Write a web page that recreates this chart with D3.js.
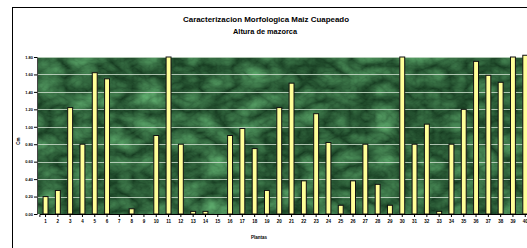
<!DOCTYPE html>
<html>
<head>
<meta charset="utf-8">
<script src="https://cdn.jsdelivr.net/npm/d3@7"></script>
<style>
  body { margin: 0; background: #fff; }
  text { font-family: "Liberation Sans", Arial, sans-serif; font-weight: bold; fill: #000; }
</style>
</head>
<body>
<div id="chart"></div>
<script>
// data (ear height per plant)
var plantas = d3.range(1, 41);
var altura = [0.20, 0.27, 1.22, 0.80, 1.62, 1.55, 0, 0.06, 0, 0.90,
  1.80, 0.80, 0.03, 0.03, 0, 0.90, 0.98, 0.75, 0.27, 1.22,
  1.50, 0.38, 1.15, 0.82, 0.10, 0.38, 0.80, 0.34, 0.10, 1.80,
  0.80, 1.03, 0.03, 0.80, 1.20, 1.75, 1.59, 1.51, 1.80, 1.82];
var yTicks = [0, 0.2, 0.4, 0.6, 0.8, 1.0, 1.2, 1.4, 1.6, 1.8];
var titulo = "Caracterizacion Morfologica Maiz Cuapeado";
var subtitulo = "Altura de mazorca";

var W = 527, H = 248;
var plot = { left: 37, top: 57, bottom: 214 };

var svg = d3.select("#chart").append("svg")
  .attr("width", W).attr("height", H);

// marble texture for the plot area
var defs = svg.append("defs");
var f = defs.append("filter").attr("id", "marble")
  .attr("color-interpolation-filters", "sRGB")
  .attr("x", 0).attr("y", 0).attr("width", 1).attr("height", 1);
f.append("feTurbulence").attr("type", "turbulence")
  .attr("baseFrequency", "0.03 0.045").attr("numOctaves", 4).attr("seed", 7)
  .attr("result", "noise");
f.append("feColorMatrix").attr("in", "noise").attr("type", "matrix")
  .attr("values", "0 0 0 0.32 0.08  0 0 0 0.5 0.22  0 0 0 0.34 0.12  0 0 0 0 1");

// chart area border (cropped at right/bottom)
svg.append("rect").attr("x", 12.5).attr("y", 7.5)
  .attr("width", 540).attr("height", 260)
  .attr("fill", "none").attr("stroke", "#000").attr("stroke-width", 1);

var x = d3.scaleBand().domain(plantas).range([39.4, 531.4]).paddingInner(0.6).paddingOuter(0.3);
var y = d3.scaleLinear().domain([0, 1.8]).range([plot.bottom, plot.top]);

svg.append("rect").attr("x", plot.left).attr("y", plot.top)
  .attr("width", W - plot.left).attr("height", plot.bottom - plot.top)
  .attr("filter", "url(#marble)");

// gridlines
svg.append("g").selectAll("line").data(yTicks.slice(1)).enter().append("line")
  .attr("x1", plot.left).attr("x2", W)
  .attr("y1", d => Math.round(y(d)) + 0.5).attr("y2", d => Math.round(y(d)) + 0.5)
  .attr("stroke", "#d0e0d0").attr("stroke-width", 1).attr("opacity", 0.8);

// bars
svg.append("g").selectAll("rect").data(altura).enter().append("rect")
  .attr("x", (d, i) => x(plantas[i]))
  .attr("y", d => y(d))
  .attr("width", x.bandwidth())
  .attr("height", d => plot.bottom - y(d))
  .attr("fill", "#ffff99").attr("stroke", "#111").attr("stroke-width", 1)
  .attr("display", d => d > 0 ? null : "none");

// axes
var yAxis = d3.axisLeft(y).tickValues(yTicks).tickFormat(d3.format(".2f")).tickSize(3);
var gy = svg.append("g").attr("transform", "translate(" + plot.left + ",0)").call(yAxis);
gy.selectAll("text").style("font-size", "4px").attr("x", -4);
gy.select(".domain").attr("stroke", "#444");

var xAxis = d3.axisBottom(x).tickSize(3);
var gx = svg.append("g").attr("transform", "translate(0," + plot.bottom + ")").call(xAxis);
gx.selectAll("text").style("font-size", "4.5px").attr("y", 6);
gx.select(".domain").attr("stroke", "#000");

// titles
svg.append("text").attr("x", 266).attr("y", 22).attr("text-anchor", "middle")
  .attr("textLength", 166).attr("lengthAdjust", "spacingAndGlyphs")
  .style("font-size", "8px").text(titulo);
svg.append("text").attr("x", 265).attr("y", 34).attr("text-anchor", "middle")
  .attr("textLength", 64).attr("lengthAdjust", "spacingAndGlyphs")
  .style("font-size", "8px").text(subtitulo);
svg.append("text").attr("x", 259).attr("y", 239).attr("text-anchor", "middle")
  .style("font-size", "4.5px").text("Plantas");
svg.append("text").attr("transform", "translate(20,141) rotate(-90)")
  .attr("text-anchor", "middle").style("font-size", "4.5px").text("Cm");
</script>
</body>
</html>
